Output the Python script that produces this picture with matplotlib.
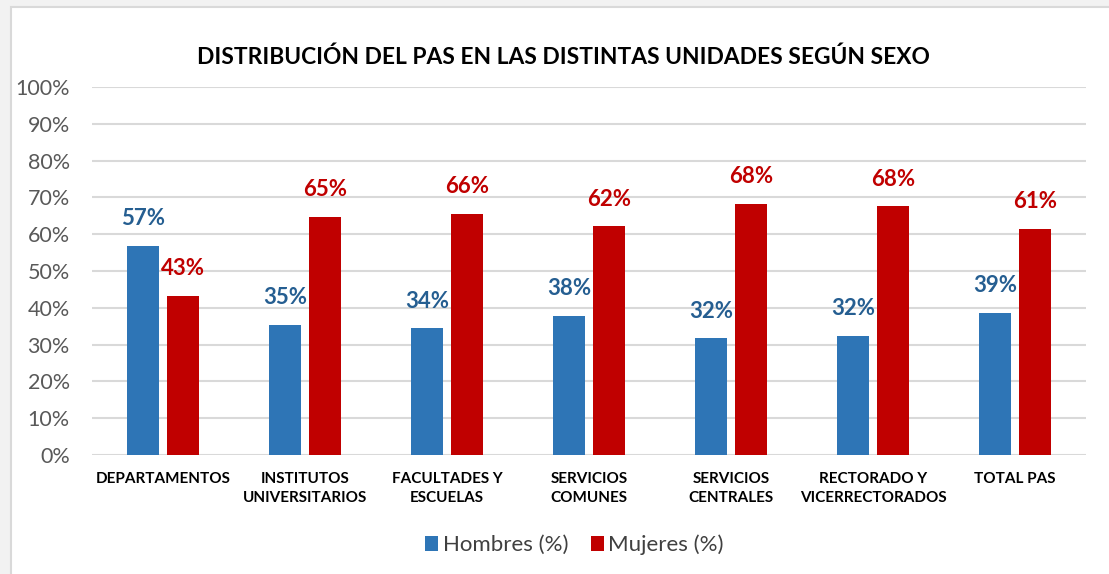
import matplotlib
matplotlib.use('agg')
import matplotlib.pyplot as plt
from matplotlib.patches import Rectangle
import numpy as np

categories = ['DEPARTAMENTOS', 'INSTITUTOS\nUNIVERSITARIOS', 'FACULTADES Y\nESCUELAS',
              'SERVICIOS\nCOMUNES', 'SERVICIOS\nCENTRALES', 'RECTORADO Y\nVICERRECTORADOS',
              'TOTAL PAS']
hombres = [56.8, 35.3, 34.4, 37.9, 31.7, 32.4, 38.6]
mujeres = [43.2, 64.7, 65.6, 62.1, 68.3, 67.6, 61.4]
series_names = ['Hombres (%)', 'Mujeres (%)']
title = 'DISTRIBUCIÓN DEL PAS EN LAS DISTINTAS UNIDADES SEGÚN SEXO'

plt.rcParams['font.family'] = ['Lato', 'DejaVu Sans']

W, H = 1109, 574
fig = plt.figure(figsize=(W / 100, H / 100), dpi=100, facecolor='#f2f2f2')
# white chart area with thin frame, behind the axes
fig.patches.append(Rectangle((11 / W, -0.01), 1.02, 1 - 7 / H + 0.01, transform=fig.transFigure,
                             facecolor='white', edgecolor='#d9d9d9', linewidth=1.5, zorder=-1))

ax = fig.add_axes([92 / W, 1 - 455 / H, (1086 - 92) / W, (455 - 87) / H])
ax.set_facecolor('none')

x = np.arange(len(categories))
bw = 0.225
off = 0.141
blue, red = '#2E75B6', '#C00000'
b1 = ax.bar(x - off, hombres, bw, color=blue, label=series_names[0], zorder=3)
b2 = ax.bar(x + off, mujeres, bw, color=red, label=series_names[1], zorder=3)

for xi, v in zip(x, hombres):
    ax.annotate(f'{round(v)}%', (xi - off, v), xytext=(0, 12), textcoords='offset points',
                ha='center', va='bottom', fontsize=16, fontweight='bold', color='#255E91')
for xi, v in zip(x, mujeres):
    ax.annotate(f'{round(v)}%', (xi + off, v), xytext=(0, 12), textcoords='offset points',
                ha='center', va='bottom', fontsize=16, fontweight='bold', color=red)

ax.set_xlim(-0.5, len(categories) - 0.5)
ax.set_ylim(0, 100)
ax.set_yticks(range(0, 101, 10))
ax.set_yticklabels([f'{t}%' for t in range(0, 101, 10)], fontsize=15.5, color='#595959')
ax.set_xticks(x)
ax.set_xticklabels(categories, fontsize=11, fontweight='bold', color='black', linespacing=1.5)
ax.tick_params(axis='both', length=0)
ax.tick_params(axis='x', pad=12)
ax.tick_params(axis='y', pad=16)
ax.grid(axis='y', color='#d9d9d9', linewidth=1.5, zorder=0)
for s in ax.spines.values():
    s.set_visible(False)

fig.text(0.508, 1 - 57 / H, title, ha='center', va='center', fontsize=16.4, fontweight='bold')

leg = fig.legend(handles=[b1, b2], loc='center', bbox_to_anchor=(0.518, 1 - 545 / H), ncol=2,
                 frameon=False, fontsize=16, handlelength=0.6, handleheight=0.6,
                 handletextpad=0.2, columnspacing=1.0)
for t in leg.get_texts():
    t.set_color('#404040')

fig.savefig('out.png', dpi=100, facecolor=fig.get_facecolor())
